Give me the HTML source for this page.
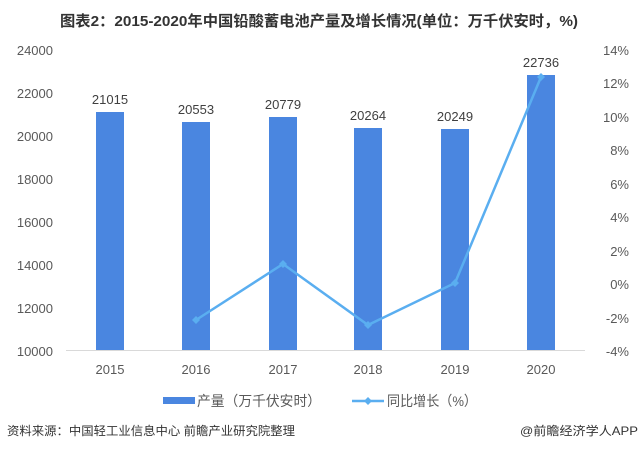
<!DOCTYPE html>
<html><head><meta charset="utf-8"><style>
body{margin:0;background:#fff;width:640px;height:448px;overflow:hidden}
svg text{font-family:"Liberation Sans","Noto Sans CJK SC",sans-serif}
</style></head><body>
<svg width="640" height="448" xmlns="http://www.w3.org/2000/svg">
<text x="60" y="26" font-size="15" font-weight="bold" fill="#333" textLength="518" lengthAdjust="spacingAndGlyphs">图表2：2015-2020年中国铅酸蓄电池产量及增长情况(单位：万千伏安时，%)</text>
<g font-size="13" fill="#595959" text-anchor="end">
<text x="53" y="55">24000</text><text x="53" y="98">22000</text><text x="53" y="141">20000</text><text x="53" y="184">18000</text><text x="53" y="227">16000</text><text x="53" y="270">14000</text><text x="53" y="313">12000</text><text x="53" y="356">10000</text>
</g>
<g font-size="13" fill="#595959" text-anchor="end">
<text x="629" y="55">14%</text><text x="629" y="88">12%</text><text x="629" y="122">10%</text><text x="629" y="155">8%</text><text x="629" y="189">6%</text><text x="629" y="222">4%</text><text x="629" y="256">2%</text><text x="629" y="289">0%</text><text x="629" y="323">-2%</text><text x="629" y="356">-4%</text>
</g>
<line x1="66" y1="350.5" x2="585" y2="350.5" stroke="#d9d9d9"/>
<g fill="#4a86e0">
<rect x="96" y="112" width="28" height="238"/>
<rect x="182" y="122" width="28" height="228"/>
<rect x="269" y="117" width="28" height="233"/>
<rect x="354" y="128" width="28" height="222"/>
<rect x="441" y="129" width="28" height="221"/>
<rect x="527" y="75" width="28" height="275"/>
</g>
<g font-size="13" fill="#404040" text-anchor="middle">
<text x="110" y="104">21015</text><text x="196" y="114">20553</text><text x="283" y="109">20779</text><text x="368" y="120">20264</text><text x="455" y="121">20249</text><text x="541" y="67">22736</text>
</g>
<polyline points="196,320 283,264 368,325 455,283 541,77" fill="none" stroke="#5aaef0" stroke-width="2.5"/>
<g fill="#5aaef0">
<path d="M196,316l4,4l-4,4l-4,-4z"/><path d="M283,260l4,4l-4,4l-4,-4z"/><path d="M368,321l4,4l-4,4l-4,-4z"/><path d="M455,279l4,4l-4,4l-4,-4z"/><path d="M541,73l4,4l-4,4l-4,-4z"/>
</g>
<g font-size="13" fill="#595959" text-anchor="middle">
<text x="110" y="374">2015</text><text x="196" y="374">2016</text><text x="283" y="374">2017</text><text x="368" y="374">2018</text><text x="455" y="374">2019</text><text x="541" y="374">2020</text>
</g>
<rect x="163" y="397" width="32" height="7" fill="#4a86e0"/>
<text x="197" y="406" font-size="14" fill="#595959" textLength="124" lengthAdjust="spacingAndGlyphs">产量（万千伏安时）</text>
<line x1="352" y1="401" x2="384" y2="401" stroke="#5aaef0" stroke-width="2.5"/>
<path d="M368,397l4,4l-4,4l-4,-4z" fill="#5aaef0"/>
<text x="387" y="406" font-size="14" fill="#595959" textLength="90" lengthAdjust="spacingAndGlyphs">同比增长（%）</text>
<text x="7" y="435" font-size="12" fill="#333" textLength="288" lengthAdjust="spacingAndGlyphs">资料来源：中国轻工业信息中心 前瞻产业研究院整理</text>
<text x="520" y="435" font-size="12" fill="#333" textLength="118" lengthAdjust="spacingAndGlyphs">@前瞻经济学人APP</text>
</svg>
</body></html>
